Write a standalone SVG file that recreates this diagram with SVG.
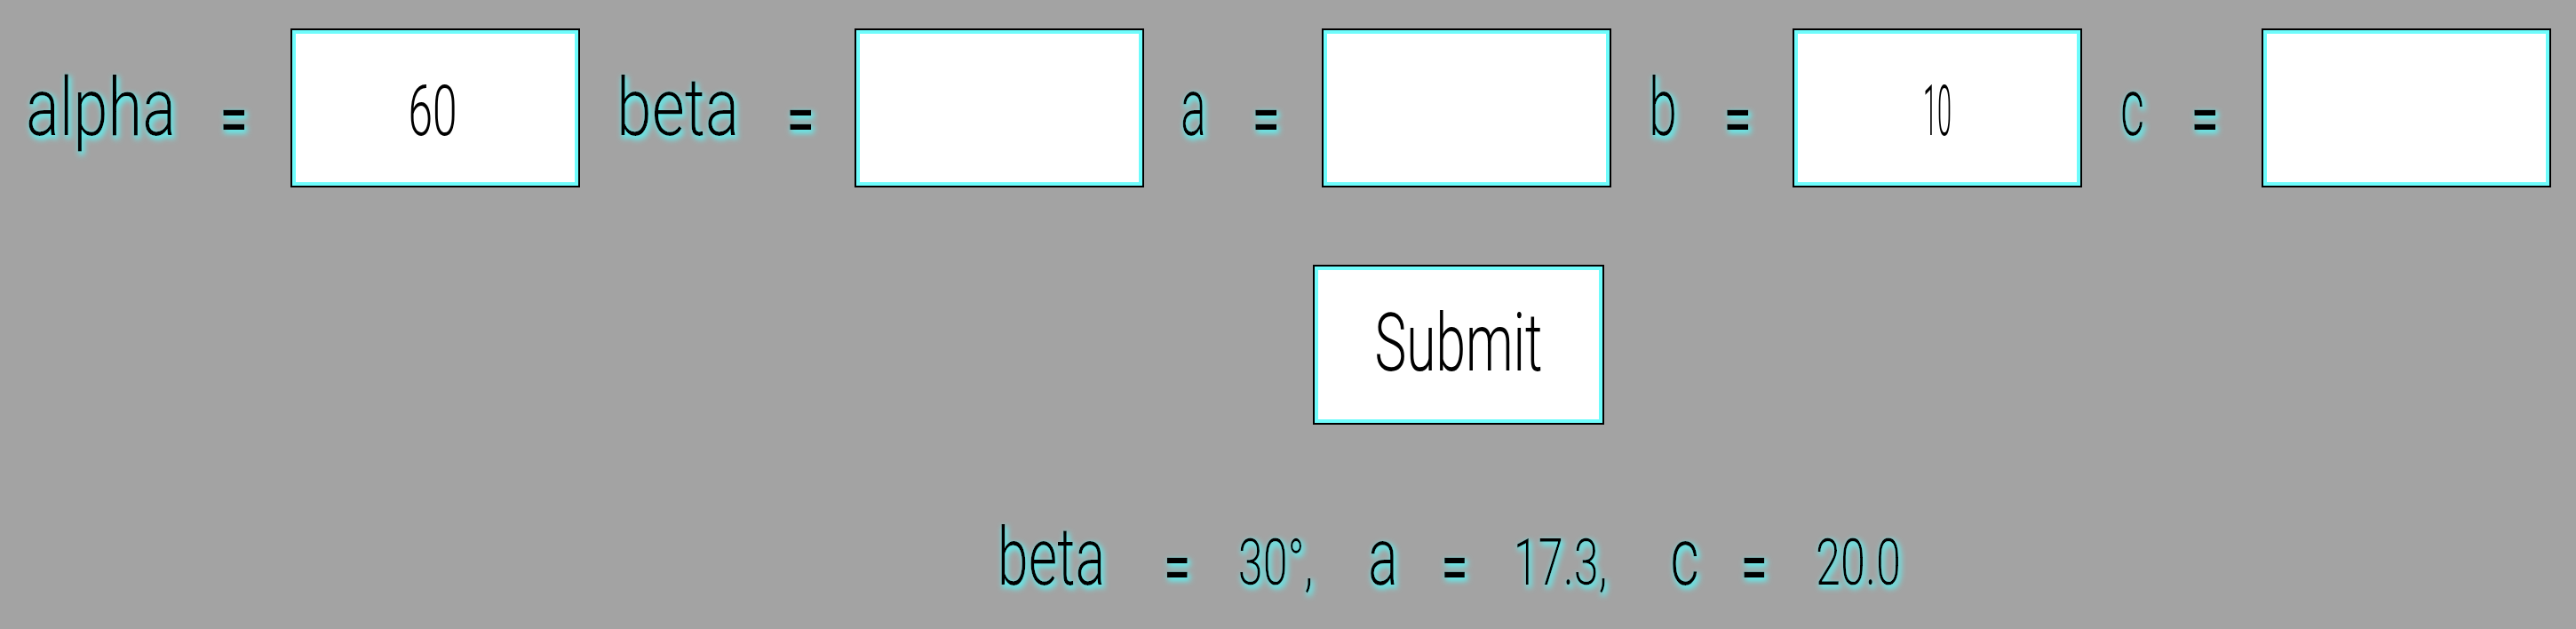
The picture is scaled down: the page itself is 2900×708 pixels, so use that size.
<svg xmlns="http://www.w3.org/2000/svg" width="2900" height="708" viewBox="0 0 2900 708">
<defs>
<style>
.bg{fill:#a3a3a3}
.outer{fill:none;stroke:#000;stroke-width:2}
.inner{fill:#fff;stroke:#6ffcfc;stroke-width:4}
.lbl{font-family:Roboto,"Liberation Sans Narrow","DejaVu Sans",sans-serif;font-weight:300;font-size:90px;fill:#000}
.eq{font-family:Roboto,"Liberation Sans Narrow","DejaVu Sans",sans-serif;font-weight:400;font-size:80px;fill:#000}
.val{font-family:Roboto,"Liberation Sans Narrow","DejaVu Sans",sans-serif;font-weight:300;font-size:80px;fill:#000}
.glow{filter:url(#glow)}
</style>
<filter id="glow" x="-20%" y="-30%" width="140%" height="160%">
<feMorphology in="SourceAlpha" operator="dilate" radius="1"/>
<feGaussianBlur stdDeviation="3"/>
<feOffset dx="2" dy="3" result="b"/>
<feFlood flood-color="#5ff0f0" flood-opacity="1"/>
<feComposite in2="b" operator="in"/>
<feMerge><feMergeNode/><feMergeNode in="SourceGraphic"/></feMerge>
</filter>
</defs>
<rect class="bg" x="0" y="0" width="2900" height="708"/>

<g id="label-alpha" class="glow">
<text class="lbl" x="29" y="152" textLength="169" lengthAdjust="spacingAndGlyphs">alpha</text>
<text class="eq" x="263" y="162" text-anchor="middle" textLength="32" lengthAdjust="spacingAndGlyphs">=</text>
</g>
<g id="input-alpha">
<rect class="outer" x="328" y="33" width="324" height="177"/>
<rect class="inner" x="331" y="36" width="318" height="171"/>
<text class="val" x="487" y="152" text-anchor="middle" textLength="55" lengthAdjust="spacingAndGlyphs">60</text>
</g>

<g id="label-beta" class="glow">
<text class="lbl" x="694" y="152" textLength="138" lengthAdjust="spacingAndGlyphs">beta</text>
<text class="eq" x="901" y="162" text-anchor="middle" textLength="32" lengthAdjust="spacingAndGlyphs">=</text>
</g>
<g id="input-beta">
<rect class="outer" x="963" y="33" width="324" height="177"/>
<rect class="inner" x="966" y="36" width="318" height="171"/>
</g>

<g id="label-a" class="glow">
<text class="lbl" x="1329" y="152" textLength="29" lengthAdjust="spacingAndGlyphs">a</text>
<text class="eq" x="1425" y="162" text-anchor="middle" textLength="32" lengthAdjust="spacingAndGlyphs">=</text>
</g>
<g id="input-a">
<rect class="outer" x="1489" y="33" width="324" height="177"/>
<rect class="inner" x="1492" y="36" width="318" height="171"/>
</g>

<g id="label-b" class="glow">
<text class="lbl" x="1856" y="152" textLength="32" lengthAdjust="spacingAndGlyphs">b</text>
<text class="eq" x="1956" y="162" text-anchor="middle" textLength="32" lengthAdjust="spacingAndGlyphs">=</text>
</g>
<g id="input-b">
<rect class="outer" x="2019" y="33" width="324" height="177"/>
<rect class="inner" x="2022" y="36" width="318" height="171"/>
<text class="val" x="2181" y="152" text-anchor="middle" textLength="32" lengthAdjust="spacingAndGlyphs">10</text>
</g>

<g id="label-c" class="glow">
<text class="lbl" x="2387" y="152" textLength="27" lengthAdjust="spacingAndGlyphs">c</text>
<text class="eq" x="2482" y="162" text-anchor="middle" textLength="32" lengthAdjust="spacingAndGlyphs">=</text>
</g>
<g id="input-c">
<rect class="outer" x="2547" y="33" width="324" height="177"/>
<rect class="inner" x="2550" y="36" width="318" height="171"/>
</g>

<g id="submit">
<rect class="outer" x="1479" y="299" width="326" height="178"/>
<rect class="inner" x="1482" y="302" width="320" height="172"/>
<text class="lbl" x="1642" y="417" text-anchor="middle" textLength="189" lengthAdjust="spacingAndGlyphs">Submit</text>
</g>

<g id="result" class="glow">
<text class="lbl" transform="scale(0.7 1)" y="658"><tspan x="1604">beta </tspan><tspan x="1871" class="eq" dy="8">= </tspan><tspan x="1991" dy="-8" font-size="72">30°, </tspan><tspan x="2200">a </tspan><tspan x="2317" class="eq" dy="8">= </tspan><tspan x="2434" dy="-8" font-size="72">17.3, </tspan><tspan x="2686">c </tspan><tspan x="2799" class="eq" dy="8">= </tspan><tspan x="2920" dy="-8" font-size="72">20.0</tspan></text>
</g>
</svg>
